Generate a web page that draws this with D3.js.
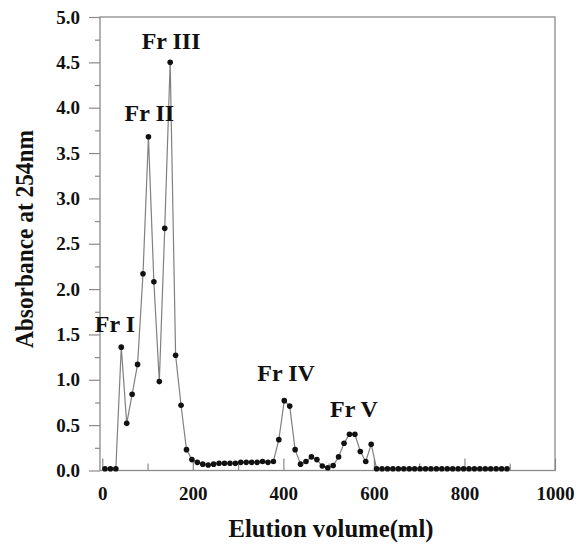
<!DOCTYPE html>
<html>
<head>
<meta charset="utf-8">
<script src="https://cdn.jsdelivr.net/npm/d3@7"></script>
<style>
  html, body { margin: 0; padding: 0; background: #fff; }
  svg { display: block; }
</style>
</head>
<body>
<svg id="chart" width="580" height="552"></svg>
<script>
// ---- data ----
const volumes = [6,18,30,42,54,66,78,90,102,114,126,138,150,162,174,186,198,210,222,234,246,258,270,282,294,306,318,330,342,354,366,378,390,402,414,426,438,450,462,474,486,498,510,522,534,546,558,570,582,594,606,618,630,642,654,666,678,690,702,714,726,738,750,762,774,786,798,810,822,834,846,858,870,882,894];
const absorbance = [0.02,0.02,0.02,1.36,0.52,0.84,1.17,2.17,3.68,2.08,0.98,2.67,4.50,1.27,0.72,0.23,0.12,
  0.09,0.07,0.06,0.07,0.08,0.08,0.08,0.08,0.09,0.09,0.09,0.09,0.10,0.09,0.10,
  0.34,0.77,0.71,0.23,0.07,0.10,0.15,0.12,0.05,0.03,0.055,0.15,0.30,0.40,0.40,0.21,0.10,0.29,
  0.02,0.02,0.02,0.02,0.02,0.02,0.02,0.02,0.02,0.02,0.02,0.02,0.02,0.02,0.02,0.02,0.02,0.02,0.02,0.02,0.02,0.02,0.02,0.02,0.02];
const xTicks = [0,200,400,600,800,1000];
const xMinorTicks = [100,300,500,700,900];
const yTicks = [0,0.5,1,1.5,2,2.5,3,3.5,4,4.5,5];
const yMinorTicks = [0.25,0.75,1.25,1.75,2.25,2.75,3.25,3.75,4.25,4.75];
const peakLabels = ["Fr I","Fr II","Fr III","Fr IV","Fr V"];
const peakVolumes = [28,104,152,406,556];
const peakHeights = [1.53,3.85,4.65,0.99,0.59];
const xTitle = "Elution volume(ml)";
const yTitle = "Absorbance at 254nm";

const data = volumes.map((v,i)=>({v, a: absorbance[i]}));

// ---- layout ----
const FONT = "'Liberation Serif', 'Times New Roman', serif";
const L = 100, R = 555, T = 17, B = 470.5;
const svg = d3.select("#chart");
const x = d3.scaleLinear().domain([-5,1000]).range([L,R]);
const y = d3.scaleLinear().domain([0,5]).range([B,T]);
const axisColor = "#8a8a8a";

function styleText(sel, size) {
  sel.style("font-family", FONT).style("font-weight", "bold")
     .style("font-size", size + "px").style("fill", "#111");
}

// frame
svg.append("rect").attr("x",L).attr("y",T).attr("width",R-L).attr("height",B-T)
  .attr("fill","none").attr("stroke",axisColor).attr("stroke-width",1.3);

// y axis
const yAxis = svg.append("g").attr("transform",`translate(${L},0)`)
  .call(d3.axisLeft(y).tickValues(yTicks).tickFormat(d3.format(".1f")).tickSize(11).tickPadding(9));
yAxis.select(".domain").remove();
yAxis.selectAll("line").attr("stroke",axisColor).attr("stroke-width",1.2);
styleText(yAxis.selectAll("text"), 19);
const yMinor = svg.append("g").attr("transform",`translate(${L},0)`)
  .call(d3.axisLeft(y).tickValues(yMinorTicks).tickFormat("").tickSize(5));
yMinor.select(".domain").remove();
yMinor.selectAll("line").attr("stroke",axisColor).attr("stroke-width",1.2);

// x axis
const xAxis = svg.append("g").attr("transform",`translate(0,${B})`)
  .call(d3.axisBottom(x).tickValues(xTicks).tickFormat(d3.format("d")).tickSizeInner(-12).tickSizeOuter(0).tickPadding(16));
xAxis.select(".domain").remove();
xAxis.selectAll("line").attr("stroke",axisColor).attr("stroke-width",1.2);
styleText(xAxis.selectAll("text"), 19);
const xMinor = svg.append("g").attr("transform",`translate(0,${B})`)
  .call(d3.axisBottom(x).tickValues(xMinorTicks).tickFormat("").tickSizeInner(-7).tickSizeOuter(0));
xMinor.select(".domain").remove();
xMinor.selectAll("line").attr("stroke",axisColor).attr("stroke-width",1.2);

// line
const line = d3.line().x(d=>x(d.v)).y(d=>y(d.a));
svg.append("path").datum(data).attr("d",line)
  .attr("fill","none").attr("stroke","#808080").attr("stroke-width",1.2);

// points
svg.append("g").selectAll("circle").data(data).join("circle")
  .attr("cx",d=>x(d.v)).attr("cy",d=>y(d.a)).attr("r",2.8).attr("fill","#111");

// peak labels
const pl = svg.append("g").selectAll("text").data(peakLabels).join("text")
  .attr("x",(d,i)=>x(peakVolumes[i])).attr("y",(d,i)=>y(peakHeights[i]))
  .attr("text-anchor","middle").text(d=>d);
styleText(pl, 24);

// titles
const xt = svg.append("text").attr("x",331).attr("y",537).attr("text-anchor","middle")
  .attr("textLength",205).attr("lengthAdjust","spacingAndGlyphs").text(xTitle);
styleText(xt, 25);
const yt = svg.append("text").attr("transform","translate(33,239) rotate(-90)").attr("text-anchor","middle")
  .attr("textLength",218).attr("lengthAdjust","spacingAndGlyphs").text(yTitle);
styleText(yt, 25);
</script>
</body>
</html>
